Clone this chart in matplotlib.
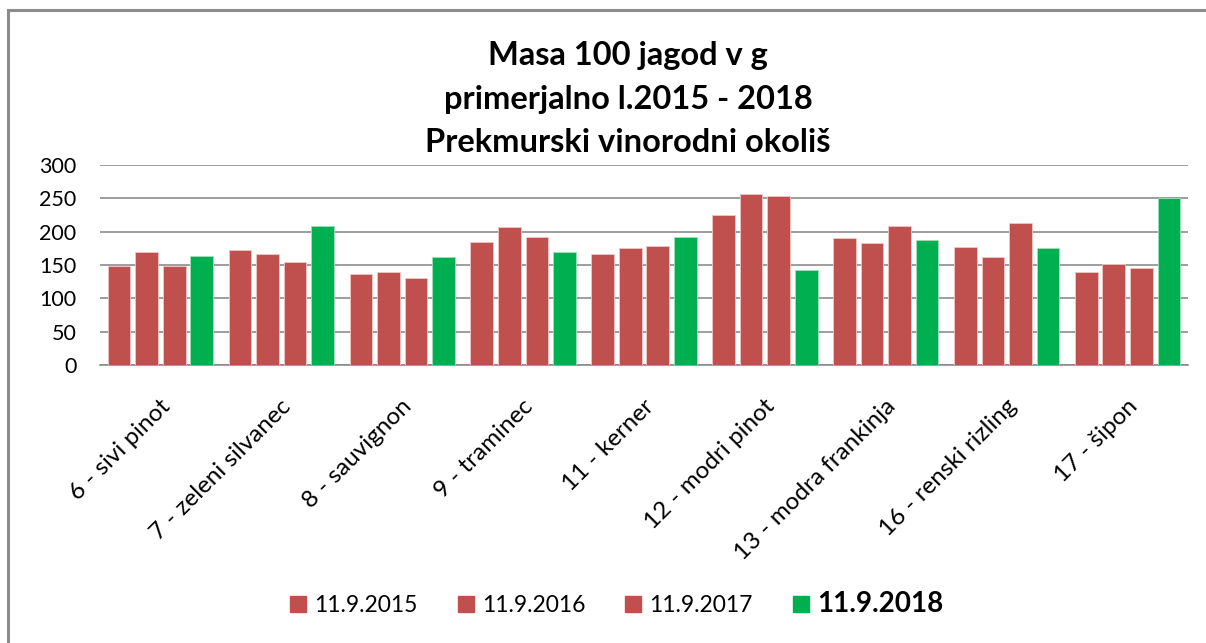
import matplotlib.pyplot as plt
import numpy as np
from matplotlib.lines import Line2D

categories = ["6 - sivi pinot", "7 - zeleni silvanec", "8 - sauvignon", "9 - traminec",
              "11 - kerner", "12 - modri pinot", "13 - modra frankinja",
              "16 - renski rizling", "17 - šipon"]
series_labels = ["11.9.2015", "11.9.2016", "11.9.2017", "11.9.2018"]
v2015 = [149, 173, 137, 185, 166, 225, 190, 177, 139]
v2016 = [169, 166, 139, 207, 175, 257, 183, 162, 152]
v2017 = [149, 154, 130, 192, 179, 253, 209, 213, 146]
v2018 = [163, 209, 162, 169, 192, 143, 188, 175, 251]
yticks = [0, 50, 100, 150, 200, 250, 300]

RED = "#C0504D"
GREEN = "#00B050"
FONT = "Lato"

fig = plt.figure(figsize=(12.06, 6.43), dpi=100)
ax = fig.add_axes([100/1206, 1-365/643, 1088/1206, 200/643])

x = np.arange(len(categories))
slot = 0.228
series = [v2015, v2016, v2017, v2018]
colors = [RED, RED, RED, GREEN]
for i, (vals, c) in enumerate(zip(series, colors)):
    ax.bar(x + (i - 1.5) * slot, vals, width=slot * 0.82, color=c,
           edgecolor="#f2c6c4" if c == RED else "#9fe0bb", linewidth=0.6, zorder=3)

ax.set_xlim(-0.5, len(categories) - 0.5)
ax.set_ylim(0, 300)
ax.set_yticks(yticks)
ax.yaxis.grid(True, color="#8c8c8c", linewidth=1.2, zorder=0)
for s in ["top", "right", "left"]:
    ax.spines[s].set_visible(False)
ax.spines["bottom"].set_color("#8c8c8c")
ax.spines["bottom"].set_linewidth(1.2)
ax.tick_params(axis="y", length=0, pad=17, labelsize=15.5)
ax.tick_params(axis="x", length=0)
for lab in ax.get_yticklabels():
    lab.set_fontfamily(FONT)
ax.set_xticks(x - 0.01)
ax.set_xticklabels(categories, rotation=45, ha="right", rotation_mode="anchor",
                   fontfamily=FONT, fontsize=17.5)
ax.tick_params(axis="x", pad=22)

for yy, txt in [(55, "Masa 100 jagod v g"), (100, "primerjalno l.2015 - 2018"),
                (143, "Prekmurski vinorodni okoliš")]:
    fig.text(628/1206, 1-yy/643, txt, ha="center", va="center",
             fontsize=23.5, fontweight="bold", fontfamily=FONT)

handles = [Line2D([], [], marker="s", linestyle="none", markersize=12,
                  markerfacecolor=c, markeredgecolor=c) for c in colors]
leg = fig.legend(handles, series_labels, loc="center", bbox_to_anchor=(0.51, 1-604/643),
                 ncol=4, frameon=False, prop={"family": FONT, "size": 16.5},
                 handletextpad=0.2, columnspacing=1.6, handlelength=1.0)
t = leg.get_texts()[-1]
t.set_fontweight("bold")
t.set_fontsize(20)

# chart border
fig.add_artist(Line2D([8/1206, 8/1206], [0, 1-10/643], transform=fig.transFigure,
                      color="#8c8c8c", linewidth=2.2))
fig.add_artist(Line2D([8/1206, 1], [1-10/643, 1-10/643], transform=fig.transFigure,
                      color="#8c8c8c", linewidth=2.2))

fig.savefig("out.png", dpi=100)
